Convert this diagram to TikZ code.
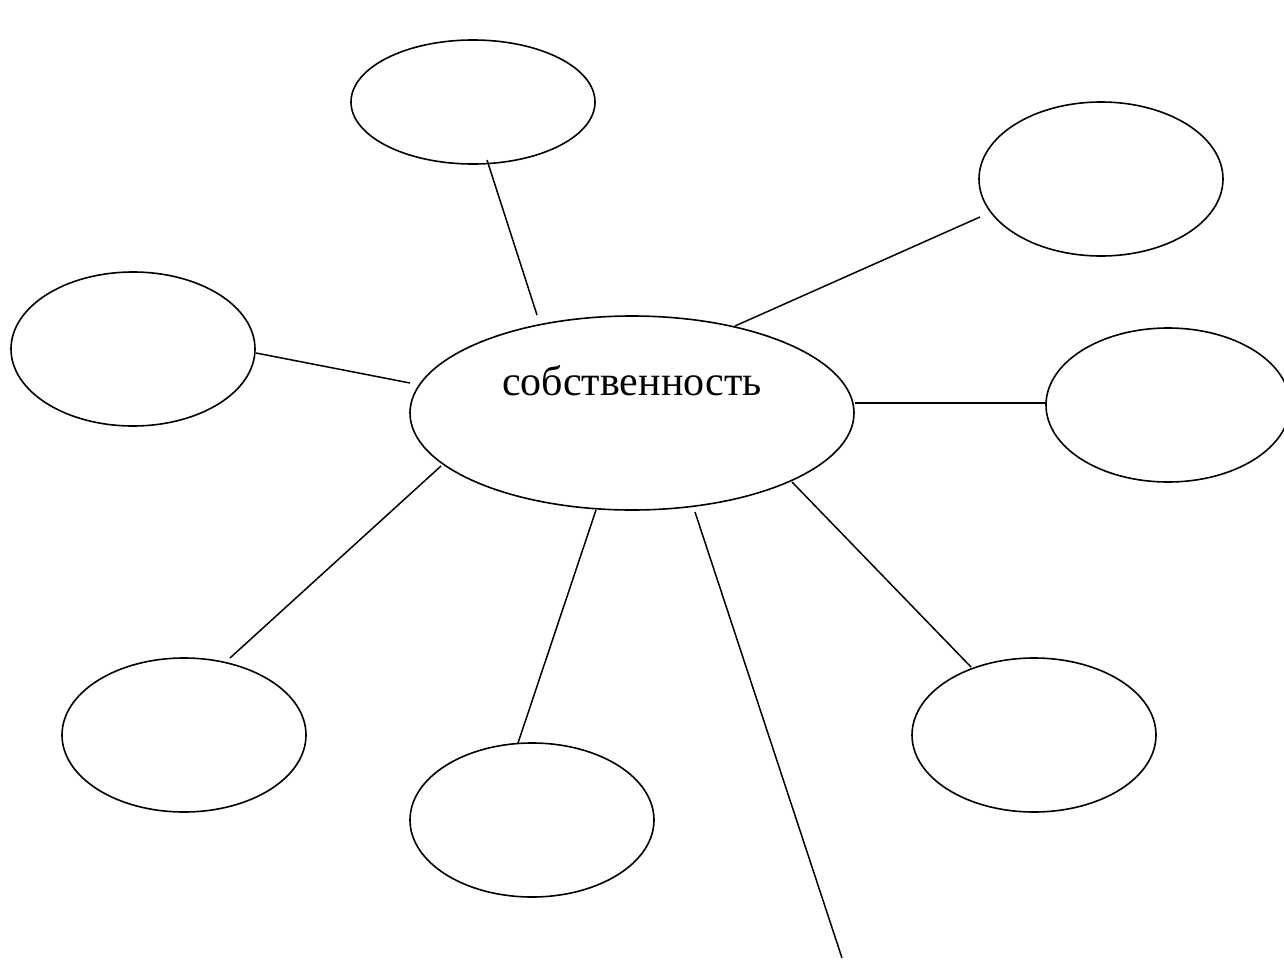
\documentclass[tikz,border=0pt]{standalone}
\usepackage{fontspec}
\setmainfont{Liberation Serif}
\usetikzlibrary{shapes.geometric,calc}
\tikzstyle{Big} = [draw, ellipse, line width=1.6pt, inner sep=0pt, minimum width=444pt, minimum height=194pt]
\tikzstyle{Small} = [draw, ellipse, line width=1.6pt, inner sep=0pt, minimum width=244pt, minimum height=154pt]
\tikzstyle{Link} = [line width=1.5pt]

\begin{document}
\begin{tikzpicture}[x=1pt,y=-1pt]
    \useasboundingbox (0,0) rectangle (1284,966);
    \node[Big]   (property) at (632,413) {};
    \node[anchor=base, font=\fontsize{42}{50}\selectfont] (p_text) at (632,395) {собственность};
    \node[Small, minimum height=124pt] (s_top) at (473,102) {};
    \node[Small] (s_topright)  at (1101,179) {};
    \node[Small] (s_left)      at (133,349)  {};
    \node[Small] (s_right)     at (1168,405) {};
    \node[Small] (s_botleft)   at (184,735)  {};
    \node[Small] (s_botmid)    at (532,820)  {};
    \node[Small] (s_botright)  at (1034,735) {};
    \coordinate (c_free) at (842,958);
    \draw[Link] ($(property)+(-95,-98)$) -- ($(s_top)+(14,58)$);
    \draw[Link] ($(property)+(103,-87)$) -- ($(s_topright)+(-121,38)$);
    \draw[Link] ($(property)+(-222,-30)$) -- ($(s_left)+(123,4)$);
    \draw[Link] ($(property)+(223,-10)$) -- ($(s_right)+(-122,-2)$);
    \draw[Link] ($(property)+(-191,53)$) -- ($(s_botleft)+(46,-77)$);
    \draw[Link] ($(property)+(-36,97)$) -- ($(s_botmid)+(-14,-77)$);
    \draw[Link] ($(property)+(63,99)$) -- (c_free);
    \draw[Link] ($(property)+(160,69)$) -- ($(s_botright)+(-63,-68)$);
  \end{tikzpicture}
\end{document}
